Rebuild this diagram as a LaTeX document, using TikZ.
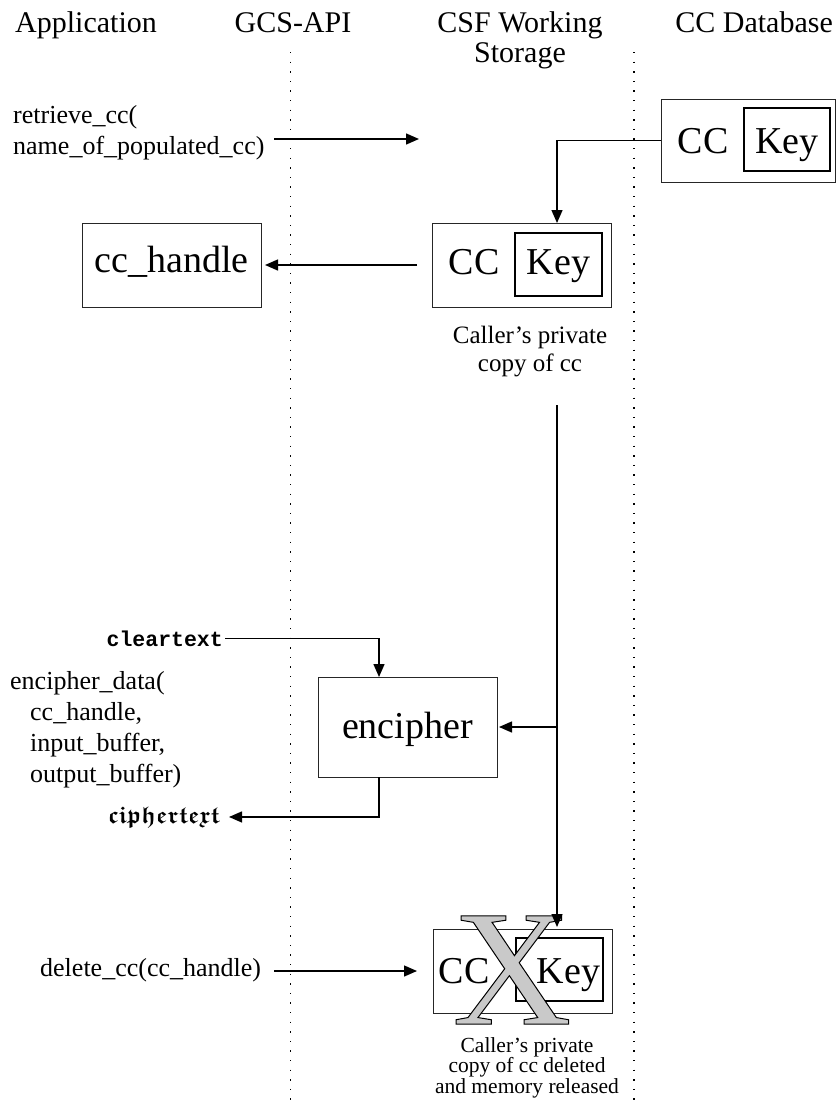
\documentclass[tikz,border=0pt]{standalone}
\usepackage{fontspec}
\setmainfont{Liberation Serif}
\newfontfamily\cmono{Liberation Mono}
\usetikzlibrary{arrows.meta}
\DeclareFontFamily{U}{myfrak}{}
\DeclareFontShape{U}{myfrak}{b}{n}{<-> eufb10}{}
\definecolor{xgray}{gray}{0.79}
\newcommand{\frakb}{\fontsize{24}{30}\usefont{U}{myfrak}{b}{n}}
\newcommand{\outlineX}{\special{pdf:literal direct 1 w 0 G 2 Tr}X\special{pdf:literal direct 0 Tr}}
\begin{document}
\begin{tikzpicture}[x=1pt,y=-1pt,
  box/.style={draw=black!85, line width=1pt, inner sep=0pt, outer sep=0pt, rectangle},
  keybox/.style={draw=black, line width=1.6pt, inner sep=0pt, outer sep=0pt, rectangle},
  arr/.style={line width=1.4pt, -{Triangle[length=13pt,width=11pt]}},
  lane/.style={line width=1.3pt, dash pattern=on 1.3pt off 8.3pt},
  hdr/.style={font=\fontsize{30}{30}\selectfont, inner sep=0pt, align=center},
  big/.style={font=\fontsize{38}{40}\selectfont, inner sep=0pt, anchor=base},
  fn/.style={font=\fontsize{26}{31}\selectfont, inner sep=0pt, align=left, anchor=base west},
]
\useasboundingbox (0,0) rectangle (836,1106);

% lanes
\draw[lane] (290.5,52) -- (290.5,1106);
\draw[lane] (634,52) -- (634,1106);

% headers
\node[hdr, anchor=base west] (happ) at (15,32) {Application};
\node[hdr, anchor=base] (hgcs) at (293,32) {GCS-API};
\node[hdr, anchor=base] (hcsf) at (520,62) {CSF Working\\Storage};
\node[hdr, anchor=base east] (hdb) at (833,32) {CC Database};

% boxes
\node[box, minimum width=174.5pt, minimum height=83pt] (db) at (748.25,140.5) {};
\node[keybox, minimum width=86pt, minimum height=63pt] (dbkey) at (787,139.5) {};
\node[big] (dbcc) at (703,153) {CC};
\node[big] (dbk) at (787,153) {Key};

\node[box, minimum width=179pt, minimum height=84pt] (csf) at (521.5,265) {};
\node[keybox, minimum width=87pt, minimum height=63pt] (csfkey) at (558.5,264.5) {};
\node[big] (csfcc) at (474,274) {CC};
\node[big] (csfk) at (558.5,274) {Key};

\node[box, minimum width=179pt, minimum height=84pt] (cch) at (171.5,265) {};
\node[big] (cchtxt) at (171.5,272) {cc\_handle};

\node[box, minimum width=179pt, minimum height=100pt] (enc) at (407.5,727) {};
\node[big] (enctxt) at (407.5,738) {encipher};

\node[box, minimum width=179pt, minimum height=84pt] (del) at (522.5,971) {};
\node[keybox, minimum width=87pt, minimum height=63pt] (delkey) at (559.5,969.5) {};
\node[inner sep=0pt, anchor=base, font=\fontsize{165}{165}\selectfont, text=xgray] (xmark) at (512,1024) {\outlineX};
\node[big] (delcc) at (464,983) {CC};
\node[big] (delk) at (568.5,983) {Key};

% captions (base anchor = last line)
\node[font=\fontsize{25}{28}\selectfont, inner sep=0pt, align=center, anchor=base] (cap1) at (530,371) {Caller's private\\copy of cc};
\node[font=\fontsize{21.5}{20.5}\selectfont, inner sep=0pt, align=center, anchor=base] (cap2) at (527,1093) {Caller's private\\copy of cc deleted\\and memory released};

% function texts
\node[fn] (ret) at (13,154) {retrieve\_cc(\\name\_of\_populated\_cc)};
\node[fn] (encd) at (10,782) {encipher\_data(\\\hspace*{20pt}cc\_handle,\\\hspace*{20pt}input\_buffer,\\\hspace*{20pt}output\_buffer)};
\node[fn] (delt) at (40,976) {delete\_cc(cc\_handle)};
\node[inner sep=0pt, anchor=base east, font=\cmono\bfseries\fontsize{21.5}{24}\selectfont] (clr) at (223,646) {cleartext};
\node[inner sep=0pt, anchor=base east, font=\frakb] (ciph) at (220,823) {ciphertext};

% connectors
\coordinate (r1) at (274,139);
\coordinate (r2) at (419,139);
\draw[arr] (r1) -- (r2);

\coordinate (dbturn) at (557,140.5);
\draw[arr] (db.west) -- (dbturn) -- (dbturn |- csf.north);

\draw[arr] ([xshift=-15pt]csf.west) -- ([xshift=4pt]cch.east);

\coordinate (t1) at (557,405);
\draw[arr, shorten >=2pt] (t1) -- (t1 |- del.north);
\coordinate (t2) at (557,727);
\draw[arr] (t2) -- ([xshift=2pt]enc.east);

\draw[arr] ([xshift=2pt]clr.east) -| ([xshift=-28.5pt]enc.north);
\draw[arr] ([xshift=-28.5pt]enc.south) |- ([xshift=9pt]ciph.east);

\coordinate (d1) at (274,971);
\draw[arr] (d1) -- ([xshift=-16pt]del.west);
\end{tikzpicture}
\end{document}
